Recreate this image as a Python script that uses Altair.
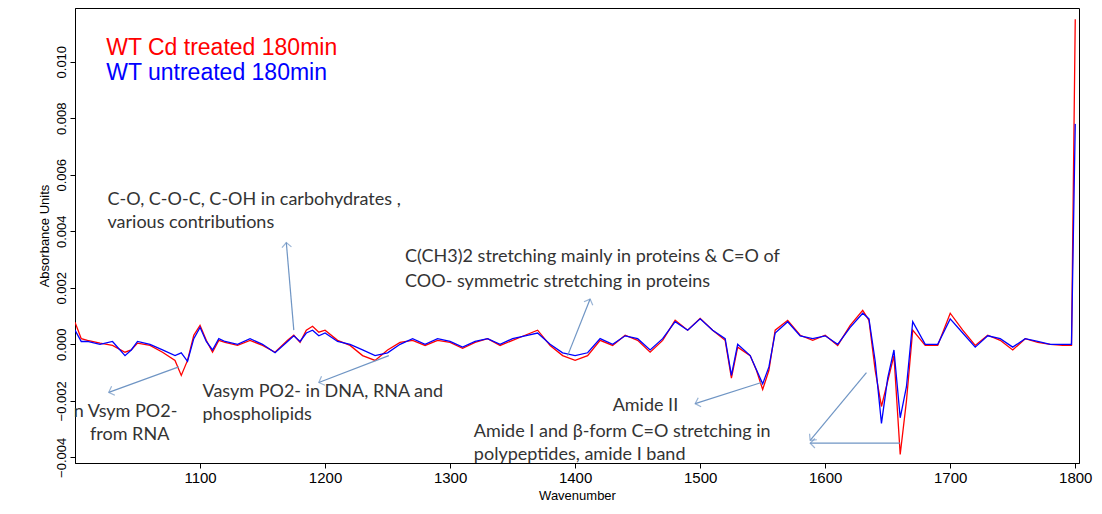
import math
import altair as alt
import pandas as pd

# Wavenumbers shared by both spectra
wavenumber = [1000, 1005, 1010, 1020, 1030, 1040, 1045, 1050, 1060, 1070, 1080, 1085, 1090, 1095,
              1100, 1105, 1110, 1115, 1120, 1130, 1140, 1150, 1160, 1170, 1175, 1180, 1185, 1190,
              1195, 1200, 1210, 1220, 1230, 1240, 1250, 1260, 1270, 1280, 1290, 1300, 1310, 1320,
              1330, 1340, 1350, 1360, 1370, 1380, 1390, 1400, 1410, 1420, 1430, 1440, 1450, 1460,
              1470, 1480, 1490, 1500, 1510, 1520, 1525, 1530, 1540, 1545, 1550, 1555, 1560, 1570,
              1580, 1590, 1600, 1610, 1620, 1630, 1635, 1640, 1645, 1650, 1655, 1660, 1665, 1670,
              1680, 1690, 1700, 1710, 1720, 1730, 1740, 1750, 1760, 1770, 1780, 1790, 1797, 1800]

treated = [0.00078, 0.0002, 0.00014, 0.00004, -0.00004, -0.00028, -0.0002, 0.00004, -0.00004,
           -0.00028, -0.00057, -0.0011, -0.00057, 0.00032, 0.00067, 0.00014, -0.00028, 0.00014,
           0.00007, -0.00004, 0.00014, -0.00004, -0.00028, 0.00014, 0.00032, 0.00007, 0.0005,
           0.00064, 0.00043, 0.0005, 0.00014, -0.00004, -0.0004, -0.00057, -0.0002, 0.00007,
           0.00014, -0.00004, 0.00014, 0.00007, -0.00014, 0.00007, 0.0002, -0.00004, 0.00014,
           0.00032, 0.0005, -0.00004, -0.0004, -0.00057, -0.0004, 0.00014, -0.00004, 0.00032,
           0.00014, -0.00028, 0.00014, 0.00085, 0.0005, 0.00092, 0.0005, 0.00014, -0.0012,
           -0.0001, -0.0004, -0.00092, -0.0016, -0.00092, 0.0005, 0.00085, 0.00032, 0.00014,
           0.00032, -0.00004, 0.00067, 0.0012, 0.00085, -0.00092, -0.0022, -0.0013, -0.0004,
           -0.0039, -0.002, 0.0005, -0.00004, -0.00004, 0.0011, 0.0005, -0.00004, 0.00032,
           0.00014, -0.0002, 0.0002, 0.00007, 0.0, -0.00004, -0.00004, 0.0115]

untreated = [0.0005, 0.0001, 0.0001, 0.0, 0.0001, -0.0004, -0.0002, 0.0001, 0.0, -0.0002,
             -0.0004, -0.0003, -0.0006, 0.0002, 0.0006, 0.0001, -0.0002, 0.0002, 0.0001, 0.0,
             0.0002, 0.0, -0.0003, 0.0001, 0.0003, 0.0001, 0.0004, 0.0005, 0.0003, 0.0004, 0.0001,
             0.0, -0.0002, -0.0004, -0.0003, 0.0, 0.0002, 0.0, 0.0002, 0.0001, -0.0001, 0.0001,
             0.0002, 0.0, 0.0002, 0.0003, 0.0004, 0.0, -0.0003, -0.0004, -0.0003, 0.0002, 0.0,
             0.0003, 0.0002, -0.0002, 0.0002, 0.0008, 0.0005, 0.0009, 0.0005, 0.0002, -0.0011,
             0.0, -0.0004, -0.0009, -0.0014, -0.0008, 0.0004, 0.0008, 0.0003, 0.0002, 0.0003,
             0.0, 0.0006, 0.0011, 0.0009, -0.0006, -0.0028, -0.0012, -0.0002, -0.0026, -0.0015,
             0.0008, 0.0, 0.0, 0.0009, 0.0004, -0.0001, 0.0003, 0.0002, -0.0001, 0.0002, 0.0001,
             0.0, 0.0, 0.0, 0.0078]

# Annotation texts: (wavenumber, absorbance, text)
notes = [
    (1026, 0.0051, "C-O, C-O-C, C-OH in carbohydrates ,"),
    (1026, 0.0043, "various contributions"),
    (1264, 0.0031, "C(CH3)2 stretching mainly in proteins & C=O of"),
    (1264, 0.0022, "COO- symmetric stretching in proteins"),
    (1102, -0.0017, "Vasym PO2- in DNA, RNA and"),
    (1102, -0.0025, "phospholipids"),
    (999, -0.0024, "n  Vsym PO2-"),
    (1012, -0.0032, "from RNA"),
    (1430, -0.0022, "Amide II"),
    (1319, -0.0031, "Amide I and β-form  C=O stretching in"),
    (1319, -0.0039, "polypeptides,  amide I band"),
]

# Arrows: start x, start y, end (head) x, end y
arrows = [
    (1175, 0.0005, 1169, 0.0036),
    (1394, -0.0004, 1412, 0.0016),
    (1251, -0.0004, 1195, -0.00135),
    (1083, -0.0008, 1027, -0.0017),
    (1549, -0.00135, 1496, -0.0021),
    (1633, -0.001, 1588, -0.0034),
    (1660, -0.0035, 1588, -0.0035),
]

W, H = 1004, 455
x_dom = [1000, 1803]
y_dom = [-0.0042, 0.0119]

spectra = pd.DataFrame({
    "wavenumber": wavenumber * 2,
    "absorbance": treated + untreated,
    "series": ["WT Cd treated 180min"] * len(wavenumber) + ["WT untreated 180min"] * len(wavenumber),
})
notes_df = pd.DataFrame(notes, columns=["x", "y", "text"])
arrows_df = pd.DataFrame(arrows, columns=["x", "y", "x2", "y2"])

# arrowhead rotation from the on-screen direction of each arrow
sx = W / (x_dom[1] - x_dom[0])
sy = H / (y_dom[1] - y_dom[0])
arrows_df["angle"] = [
    math.degrees(math.atan2((r.x2 - r.x) * sx, (r.y2 - r.y) * sy)) % 360
    for r in arrows_df.itertuples()
]

x_scale = alt.Scale(domain=x_dom, nice=False, zero=False)
y_scale = alt.Scale(domain=y_dom, nice=False)
colors = alt.Scale(domain=["WT Cd treated 180min", "WT untreated 180min"],
                   range=["#ff0000", "#0000ff"])

lines = alt.Chart(spectra).mark_line(strokeWidth=1.3, clip=True).encode(
    alt.X("wavenumber:Q", scale=x_scale, title="Wavenumber",
          axis=alt.Axis(values=[1100, 1200, 1300, 1400, 1500, 1600, 1700, 1800], grid=False,
                        format="d", labelFontSize=15, titleFontSize=13, titleFontWeight="normal")),
    alt.Y("absorbance:Q", scale=y_scale, title="Absorbance Units",
          axis=alt.Axis(values=[-0.004, -0.002, 0, 0.002, 0.004, 0.006, 0.008, 0.010], format=".3f",
                        grid=False, labelAngle=-90, labelAlign="center", labelBaseline="bottom",
                        labelFontSize=13, titleFontSize=13, titleFontWeight="normal")),
    color=alt.Color("series:N", legend=None, scale=colors),
    order=alt.Order("series:N", sort="descending"),
)

arrow_lines = alt.Chart(arrows_df).mark_rule(color="#6f95c4", strokeWidth=1.2).encode(
    x="x:Q", y="y:Q", x2="x2:Q", y2="y2:Q")

arrow_heads = alt.Chart(arrows_df).mark_point(shape="M-1,1L0,0L1,1", color="#6f95c4",
                                              size=90, strokeWidth=1.2, filled=False).encode(
    x="x2:Q", y="y2:Q", angle=alt.Angle("angle:Q", scale=None))

labels = alt.Chart(notes_df).mark_text(align="left", baseline="middle", fontSize=18,
                                       color="#333333", font="Lato").encode(
    x="x:Q", y="y:Q", text="text:N")

legend_df = pd.DataFrame({"x": [1025, 1025], "y": [0.0105, 0.0096],
                          "text": ["WT Cd treated 180min", "WT untreated 180min"]})
legend = alt.Chart(legend_df).mark_text(align="left", baseline="middle", fontSize=23,
                                        font="Liberation Sans").encode(
    x="x:Q", y="y:Q", text="text:N",
    color=alt.Color("text:N", legend=None, scale=colors))

chart = alt.layer(lines, arrow_lines, arrow_heads, labels, legend).properties(
    width=W, height=H, autosize=alt.AutoSizeParams(type="none"),
    padding={"left": 67, "top": 0, "right": 15, "bottom": 40}
).configure_view(stroke="black").configure_axis(domainColor="black", tickColor="black",
                                                labelColor="black", titleColor="black")

chart.save("out.html", embed_options={"renderer": "svg", "actions": False})
